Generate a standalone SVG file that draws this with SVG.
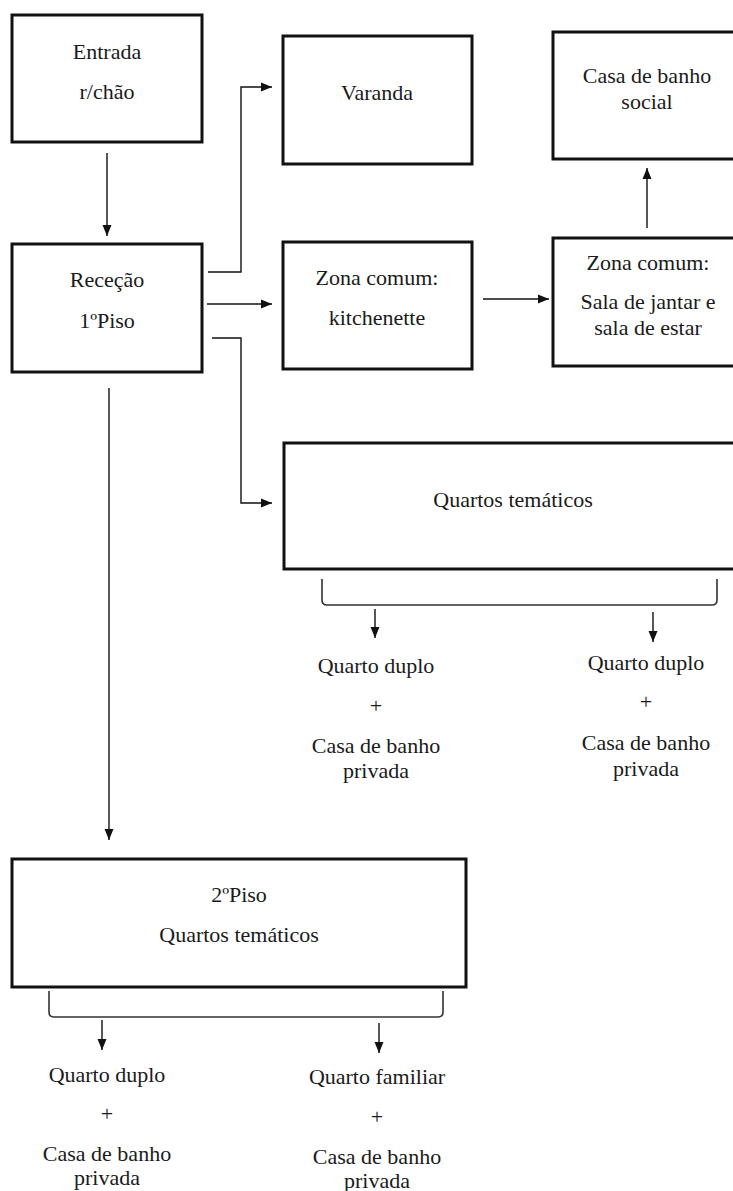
<svg xmlns="http://www.w3.org/2000/svg" width="733" height="1191" viewBox="0 0 733 1191">
  <style>
    .box { fill: #ffffff; stroke: #111111; stroke-width: 3; }
    .lbl { font-family: "Liberation Serif", "Times New Roman", serif; font-size: 22px; fill: #1a1a1a; text-anchor: middle; }
    .wire { fill: none; stroke: #111111; stroke-width: 1.4; }
    .brace { fill: none; stroke: #333333; stroke-width: 1.6; }
  </style>
  <defs>
    <marker id="arrow" markerUnits="userSpaceOnUse" markerWidth="12" markerHeight="10" refX="11" refY="5" orient="auto">
      <path d="M0,0.5 L11,5 L0,9.5 Z" fill="#111111"/>
    </marker>
  </defs>
  <rect width="733" height="1191" fill="#ffffff"/>

  <!-- connectors -->
  <g id="connectors">
    <path class="wire" d="M107,153 V236" marker-end="url(#arrow)"/>
    <path class="wire" d="M208,272 H241 V87 H272" marker-end="url(#arrow)"/>
    <path class="wire" d="M207,304 H272" marker-end="url(#arrow)"/>
    <path class="wire" d="M212,338 H241 V503 H272" marker-end="url(#arrow)"/>
    <path class="wire" d="M483,299 H549" marker-end="url(#arrow)"/>
    <path class="wire" d="M647,228 V168" marker-end="url(#arrow)"/>
    <path class="wire" d="M109,388 V840" marker-end="url(#arrow)"/>
    <!-- brace under first-floor themed rooms -->
    <path class="brace" d="M322,579 V600 Q322,605 327,605 H712 Q717,605 717,600 V579"/>
    <path class="wire" d="M375,609 V638" marker-end="url(#arrow)"/>
    <path class="wire" d="M653,612 V642" marker-end="url(#arrow)"/>
    <!-- brace under second-floor themed rooms -->
    <path class="brace" d="M49,991 V1012 Q49,1017 54,1017 H438 Q443,1017 443,1012 V991"/>
    <path class="wire" d="M102,1020 V1050" marker-end="url(#arrow)"/>
    <path class="wire" d="M379,1023 V1053" marker-end="url(#arrow)"/>
  </g>

  <g id="entrada">
    <rect class="box" x="12" y="15" width="190" height="127"/>
    <text class="lbl" x="107" y="59">Entrada</text>
    <text class="lbl" x="107" y="99">r/chão</text>
  </g>

  <g id="rececao">
    <rect class="box" x="12" y="244" width="190" height="128"/>
    <text class="lbl" x="107" y="287">Receção</text>
    <text class="lbl" x="107" y="328">1ºPiso</text>
  </g>

  <g id="varanda">
    <rect class="box" x="283" y="36" width="189" height="128"/>
    <text class="lbl" x="377" y="100">Varanda</text>
  </g>

  <g id="kitchenette">
    <rect class="box" x="283" y="242" width="189" height="127"/>
    <text class="lbl" x="377" y="285">Zona comum:</text>
    <text class="lbl" x="377" y="325">kitchenette</text>
  </g>

  <g id="casa-banho-social">
    <rect class="box" x="553" y="32" width="190" height="127"/>
    <text class="lbl" x="647" y="83">Casa de banho</text>
    <text class="lbl" x="647" y="109">social</text>
  </g>

  <g id="sala">
    <rect class="box" x="553" y="238" width="190" height="128"/>
    <text class="lbl" x="648" y="270">Zona comum:</text>
    <text class="lbl" x="648" y="309">Sala de jantar e</text>
    <text class="lbl" x="648" y="335">sala de estar</text>
  </g>

  <g id="quartos-1piso">
    <rect class="box" x="284" y="443" width="460" height="126"/>
    <text class="lbl" x="513" y="507">Quartos temáticos</text>
  </g>

  <g id="quarto-duplo-1a">
    <text class="lbl" x="376" y="673">Quarto duplo</text>
    <text class="lbl" x="376" y="713">+</text>
    <text class="lbl" x="376" y="753">Casa de banho</text>
    <text class="lbl" x="376" y="778">privada</text>
  </g>

  <g id="quarto-duplo-1b">
    <text class="lbl" x="646" y="670">Quarto duplo</text>
    <text class="lbl" x="646" y="709">+</text>
    <text class="lbl" x="646" y="750">Casa de banho</text>
    <text class="lbl" x="646" y="776">privada</text>
  </g>

  <g id="piso2">
    <rect class="box" x="12" y="859" width="454" height="128"/>
    <text class="lbl" x="239" y="902">2ºPiso</text>
    <text class="lbl" x="239" y="942">Quartos temáticos</text>
  </g>

  <g id="quarto-duplo-2">
    <text class="lbl" x="107" y="1082">Quarto duplo</text>
    <text class="lbl" x="107" y="1121">+</text>
    <text class="lbl" x="107" y="1161">Casa de banho</text>
    <text class="lbl" x="107" y="1185">privada</text>
  </g>

  <g id="quarto-familiar-2">
    <text class="lbl" x="377" y="1084">Quarto familiar</text>
    <text class="lbl" x="377" y="1124">+</text>
    <text class="lbl" x="377" y="1164">Casa de banho</text>
    <text class="lbl" x="377" y="1188">privada</text>
  </g>
</svg>
